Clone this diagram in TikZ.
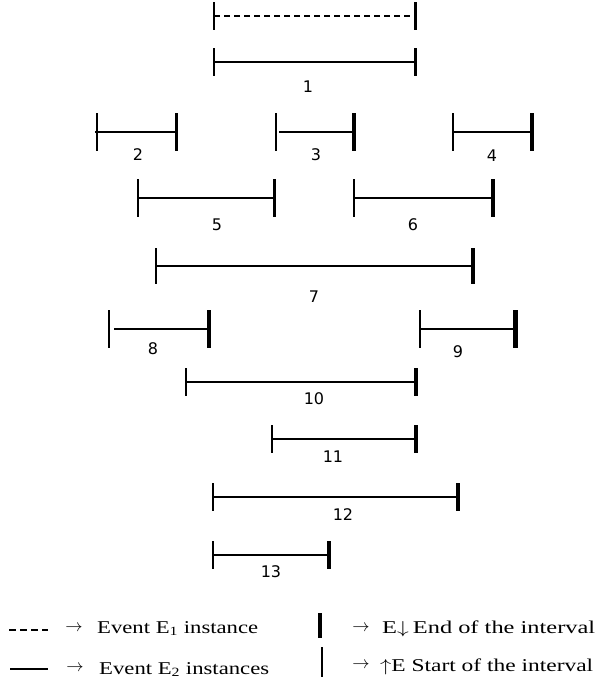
\documentclass[tikz,border=0pt]{standalone}
\usepackage{fontspec}
\setmainfont{Liberation Serif}
\newfontfamily\numfont{DejaVu Sans}
\tikzset{
  ivline/.style={line width=1.3pt},
  starttick/.style={line width=1.6pt},
  endtick/.style={line width=3.5pt},
  numlabel/.style={font=\numfont\fontsize{16}{16}\selectfont, inner sep=0pt},
  legtext/.style={anchor=base west, inner sep=0pt, font=\fontsize{18}{18}\selectfont},
  legarrow/.style={inner sep=0pt, font=\fontsize{16}{16}\selectfont}
}
% #1 name, #2 xstart, #3 xend, #4 y, #5 half height, #6 end width, #7 line start x
\newcommand\myinterval[7]{%
  \coordinate (#1s) at (#7,#4);
  \coordinate (#1e) at (#3,#4);
  \draw[ivline] (#1s) -- (#1e);
  \draw[starttick] (#2,#4-#5) -- (#2,#4+#5);
  \draw[endtick, line width=#6pt] (#3,#4-#5) -- (#3,#4+#5);
}
\begin{document}
\begin{tikzpicture}[x=1pt,y=-1pt]
\fill[white] (0,0) rectangle (611,681);
\useasboundingbox (0,0) rectangle (611,681);

% dashed E1 instance
\coordinate (d0s) at (214,16);
\coordinate (d0e) at (415,16);
\draw[ivline, dash pattern=on 6pt off 4pt] (d0s) -- (d0e);
\draw[starttick] (214,2) -- (214,30);
\draw[endtick, line width=3pt] (415,2) -- (415,30);

\myinterval{i1}{214}{415}{62}{14}{3}{214}
\node[numlabel] (l1) at (308,87) {1};

\myinterval{i2}{97}{176}{132}{19}{3}{95}
\node[numlabel] (l2) at (138,155) {2};
\myinterval{i3}{276}{354}{132}{19}{4}{279}
\node[numlabel] (l3) at (316,155) {3};
\myinterval{i4}{453}{532}{132}{19}{4.5}{453}
\node[numlabel] (l4) at (492,156) {4};

\myinterval{i5}{138}{274}{198}{19}{3}{138}
\node[numlabel] (l5) at (217,225) {5};
\myinterval{i6}{354}{493}{198}{19}{4.5}{354}
\node[numlabel] (l6) at (413,225) {6};

\myinterval{i7}{156}{473}{266}{18}{3.5}{156}
\node[numlabel] (l7) at (314,297) {7};

\myinterval{i8}{109}{209}{329}{19}{3.5}{114}
\node[numlabel] (l8) at (153,349) {8};
\myinterval{i9}{420}{515}{329}{19}{5}{420}
\node[numlabel] (l9) at (458,352) {9};

\myinterval{i10}{186}{416}{382}{14}{3.5}{186}
\node[numlabel] (l10) at (314,399) {10};
\myinterval{i11}{272}{416}{439}{14}{3.5}{272}
\node[numlabel] (l11) at (333,457) {11};
\myinterval{i12}{213}{458}{497}{14}{3.5}{213}
\node[numlabel] (l12) at (343,515) {12};
\myinterval{i13}{213}{329}{555}{14}{3.5}{213}
\node[numlabel] (l13) at (271,572) {13};

% legend
\coordinate (ld1) at (9,630);
\coordinate (ld2) at (48,630);
\draw[line width=1.2pt, dash pattern=on 7pt off 4pt] (ld1) -- (ld2);
\node[legarrow] (la1) at (74,628) {$\rightarrow$};
\node[legtext] (lt1) at (97,633) {\resizebox{161pt}{\height}{Event E\textsubscript{1} instance}};

\coordinate (ls1) at (10,669);
\coordinate (ls2) at (48,669);
\draw[line width=1.3pt] (ls1) -- (ls2);
\node[legarrow] (la2) at (75,668) {$\rightarrow$};
\node[legtext] (lt2) at (99,674) {\resizebox{170pt}{\height}{Event E\textsubscript{2} instances}};

\coordinate (lb1) at (320,613);
\coordinate (lb2) at (320,638);
\draw[line width=4pt] (lb1) -- (lb2);
\coordinate (lb3) at (322,647);
\coordinate (lb4) at (322,677);
\draw[line width=1.6pt] (lb3) -- (lb4);

\node[legarrow] (la3) at (361,628) {$\rightarrow$};
\node[legtext] (lt3) at (382,633) {\resizebox{213pt}{\height}{E$\downarrow$\,End of the interval}};
\node[legarrow] (la4) at (361,665) {$\rightarrow$};
\node[legtext] (lt4) at (380,671) {\resizebox{213pt}{\height}{$\uparrow$E Start of the interval}};
\end{tikzpicture}
\end{document}
